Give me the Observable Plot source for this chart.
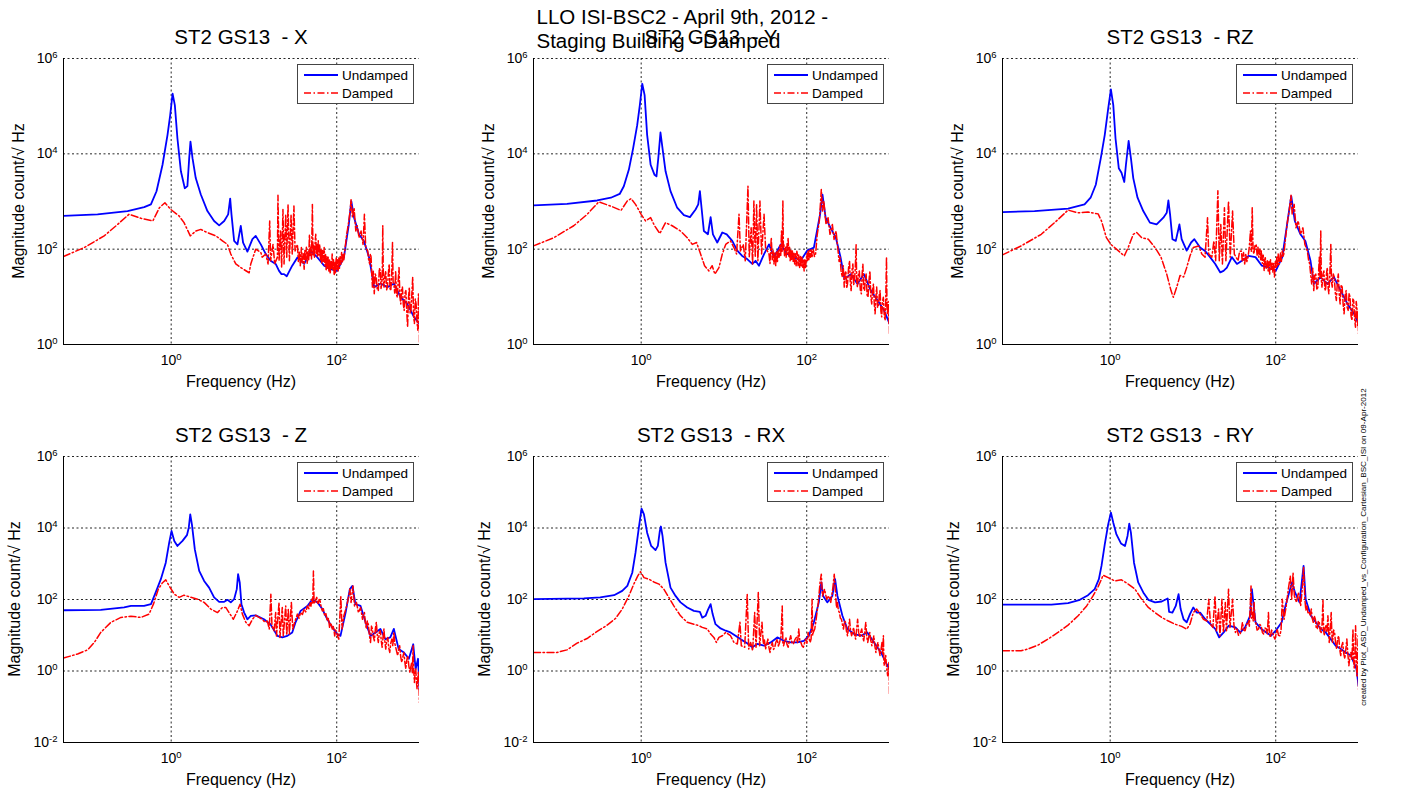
<!DOCTYPE html>
<html><head><meta charset="utf-8">
<script src="https://cdn.jsdelivr.net/npm/d3@7"></script>
<script src="https://cdn.jsdelivr.net/npm/@observablehq/plot@0.6"></script>
<style>
body{margin:0;background:#fff;}
#fig{position:relative;width:1403px;height:789px;overflow:hidden;font-family:"Liberation Sans",Arial,sans-serif;color:#000;background:#fff;}
.abs{position:absolute;white-space:pre;line-height:1;}
.legend{position:absolute;width:115px;height:38px;border:1px solid #444;background:#fff;font-size:13.5px;}
.legend span{position:absolute;left:38px;line-height:1;white-space:pre;}
</style></head><body><div id="fig"></div>
<script>
// ---------- ticks ----------
const xTicks = [1, 100];
const xTickExp = ["0", "2"];
const yTicksTop = [1, 100, 1e4, 1e6];
const yTickExpTop = ["0", "2", "4", "6"];
const yTicksBottom = [0.01, 1, 100, 1e4, 1e6];
const yTickExpBottom = ["-2", "0", "2", "4", "6"];
const xDomain = [0.05, 1000];
const yDomainTop = [1, 1e6];
const yDomainBottom = [0.01, 1e6];

const suptitle1 = "LLO ISI-BSC2 - April 9th, 2012 -";
const suptitle2 = "Staging Building - Damped";
const sideNote = "created by Plot_ASD_Undamped_vs_Configuration_Cartesian_BSC_ISI on 09-Apr-2012";
const xLabel = "Frequency (Hz)";
const yLabel = "Magnitude count/\u221A Hz";
const seriesNames = ["Undamped", "Damped"];
const panelTitles = ["ST2 GS13  - X", "ST2 GS13  - Y", "ST2 GS13  - RZ", "ST2 GS13  - Z", "ST2 GS13  - RX", "ST2 GS13  - RY"];

// ---------- data: [frequency Hz, magnitude] ----------
const xUndamped = [[0.05,500],[0.129,537],[0.297,630],[0.472,760],[0.569,870],[0.665,1640],[0.786,5900],[0.903,25000],[0.973,65000],[1.04,183000],[1.107,105000],[1.19,21000],[1.31,4300],[1.46,1900],[1.57,2100],[1.65,8100],[1.71,18000],[1.81,8100],[1.98,3100],[2.28,1400],[2.74,630],[3.30,390],[3.80,316],[4.37,390],[4.88,537],[5.16,1150],[5.35,537],[5.76,149],[6.32,126],[6.93,307],[7.39,137],[8.33,89],[9.58,162],[10.5,190],[12.1,126],[13.9,79],[15.9,57],[18.3,49],[20.1,35],[21.5,30],[23.1,30],[24.9,27],[26.4,33],[29.0,45],[33.5,67],[40.4,49],[48.6,92],[58.5,67],[70.5,45],[84.9,38],[101,35],[122,67],[140,330],[150,1020],[162,458],[186,205],[213,149],[246,67],[283,16],[339,19],[409,16],[492,19],[592,9.8],[712,7.1],[856,3.8],[1000,2.7]];
const xDamped = [[0.05,70],[0.089,108],[0.155,190],[0.225,330],[0.31,540],[0.43,445],[0.6,390],[0.72,740],[0.84,940],[0.99,680],[1.25,495],[1.43,360],[1.7,190],[1.98,240],[2.28,260],[2.74,222],[3.46,190],[4.16,150],[4.78,126],[5.25,79],[6.03,49],[6.93,41],[8.75,32],[9.15,49],[10.5,100],[12.1,85],[12.6,68],[13.9,79],[14.8,49],[15.5,390],[15.9,57],[17.0,126],[17.8,49],[19.2,68],[19.5,1350],[20.1,57],[21.0,240],[21.6,41],[22.4,680],[23.1,49],[24.2,537],[24.9,68],[25.8,870],[26.8,57],[28.1,537],[29.0,79],[30.4,800],[31.4,92],
  [33.5,126],[34.4,55],[35.4,90],[36.3,45],[37.4,108],[38.3,52],[39.4,80],[40.4,38],[41.2,95],[42.0,60],[43.0,110],[44.0,49],[45.0,88],[45.9,60],[46.8,205],[47.7,70],[48.6,110],[49.6,62],[50.8,870],[51.7,75],[52.7,120],[53.8,65],[54.8,140],[55.8,205],[56.8,80],[57.8,130],[58.5,70],[59.8,150],[61,75],[62.3,126],[63.5,60],[64.7,100],[65.9,50],[67.2,95],[68.8,55],[70.5,108],[72,45],[73.2,80],[74.5,35],[76,70],[77.5,38],[78.8,68],[80.5,33],[82,60],[83.4,30],[85,55],[86.6,40],[88.1,79],[89.8,35],[91.5,60],[93.2,28],[95,55],[96.8,32],[98.5,68],[100.5,38],[102,60],[104,35],[106,65],[108,40],[110,72],[112,48],[114.5,85],[117,52],[119.5,80],[122,60],[125,92],
  [132,205],[138,330],[145,630],[149,1100],[155,458],[162,740],[170,240],[177,310],[186,174],[197,240],[208,126],[216,537],[224,108],
  [237,92],[243,60],[250,49],[255,80],[260,68],[265,30],[270,16],[277,35],[284,11.6],[292,30],[300,26],[309,14],[318,13.5],[327,40],[337,35],[343,15],[350,18.6],[355,30],[360,310],[366,22],[373,16],[382,28],[391,35],[400,14],[410,16],[420,30],[430,49],[440,15],[450,13.5],[461,28],[472,138],[480,20],[490,18.6],[502,12],[515,35],[527,11],[540,9.8],[553,22],[566,41],[580,10],[594,7.1],[608,15],[622,16],[637,7],[653,5.2],[669,12],[685,13.5],[701,5],[718,2.3],[735,9],[753,16],[771,4.5],[790,5.2],[809,12],[828,26],[848,4],[868,2.75],[889,9],[910,7.1],[932,3],[955,2.0],[972,12],[990,9.8],[996,2.5],[1000,1.05]];

const yUndamped = [[0.05,830],[0.127,890],[0.294,1050],[0.43,1200],[0.55,1440],[0.617,2090],[0.71,4680],[0.80,13200],[0.895,40000],[0.963,105000],[1.03,295000],[1.10,170000],[1.18,25000],[1.30,5900],[1.45,3630],[1.53,3370],[1.61,8100],[1.71,28000],[1.83,11200],[1.97,4300],[2.26,1650],[2.72,740],[3.28,520],[3.88,470],[4.54,680],[4.89,870],[5.12,1650],[5.36,740],[5.72,240],[6.4,205],[6.9,470],[7.36,205],[8.3,138],[9.55,224],[10.8,205],[12.6,149],[14.5,93],[16.6,72],[19.1,62],[22.0,49],[24.1,57],[26.5,45],[30.5,79],[35,126],[40.2,68],[48.5,126],[58,79],[70,68],[84.5,57],[101,93],[122,108],[145,537],[155,1400],[169,458],[194,280],[225,174],[256,68],[286,23.5],[340,30],[410,18.6],[490,30],[595,13.5],[720,8.4],[860,5.2],[1000,2.75]];
const yDamped = [[0.05,117],[0.088,174],[0.153,310],[0.222,537],[0.307,980],[0.43,800],[0.57,650],[0.677,1020],[0.757,1150],[0.854,870],[1.0,537],[1.13,390],[1.30,458],[1.45,310],[1.68,213],[1.97,360],[2.37,310],[2.99,240],[3.60,174],[4.14,126],[4.67,138],[5.22,79],[5.83,45],[6.58,35],[7.2,45],[7.77,30],[8.7,41],[9.55,79],[10.5,126],[12.0,149],[13.2,108],[14.2,79],[15.2,537],[15.8,92],[17.1,126],[18.1,57],[19.5,2090],[20.2,68],[21.3,280],[22.2,49],[23.0,1020],[23.9,68],[24.8,870],[25.7,57],[27.2,1020],[28.5,79],[30.5,537],[31.8,108],
  [35,79],[36,50],[37.3,174],[38.3,60],[39.2,95],[40.2,49],[41.2,85],[42.2,45],[43.3,92],[44.3,55],[45.4,100],[46.4,68],[47.5,120],[48.5,70],[49.6,240],[50.5,90],[51.5,1020],[52.2,110],[53,126],[54,70],[55.2,110],[56.4,68],[57.8,130],[58.6,80],[59.5,174],[61,70],[62,110],[63,57],[64.5,95],[65.8,60],[67,92],[68.5,55],[70,85],[71.5,49],[73,80],[74.5,45],[76,90],[77,79],[78.5,45],[80,75],[82,41],[84,70],[85.8,45],[87.5,68],[89.2,40],[91,62],[93,35],[95,60],[96.8,40],[98.5,57],[100.5,80],[102,55],[104,92],[106,60],[108.5,95],[111,68],[113.5,100],[116,70],[120,100],[124,70],[128,79],
  [134,205],[142,390],[150,1780],[155,630],[161,1020],[171,330],[181,458],[191,205],[204,330],[214,160],[226,240],
  [239,92],[246,55],[253,68],[260,35],[268,26],[276,45],[284,16],[290,30],[297,35],[304,15],[311,18.6],[320,40],[329,57],[336,20],[344,13.5],[352,35],[361,49],[369,18],[378,22],[386,40],[395,126],[402,20],[410,16],[421,30],[432,35],[444,14],[457,11.6],[467,30],[477,49],[488,15],[500,13.5],[511,25],[522,30],[536,11],[550,9.8],[565,22],[580,35],[595,10],[610,7.1],[625,14],[640,18.6],[655,7],[670,4.4],[685,10],[700,16],[717,6],[735,6.2],[752,11],[770,13.5],[787,5],[805,3.8],[824,8],[843,9.8],[864,4],[885,3.2],[902,10],[920,68],[932,6],[945,4.4],[965,8],[985,2.75],[993,6],[1000,1.7]];

const rzUndamped = [[0.05,600],[0.122,630],[0.31,710],[0.49,870],[0.58,1200],[0.67,2250],[0.77,8100],[0.86,25000],[0.946,89000],[1.02,224000],[1.09,105000],[1.16,21000],[1.27,5000],[1.37,4000],[1.48,2570],[1.55,5900],[1.67,18600],[1.78,8100],[1.90,3100],[2.14,1200],[2.51,630],[3.02,360],[3.64,330],[4.39,458],[4.82,580],[5.05,1050],[5.29,537],[5.65,162],[6.2,149],[6.86,330],[7.3,162],[8.4,93],[9.5,138],[10.4,162],[12.2,108],[14.0,92],[16.1,68],[18.6,49],[21.4,32.5],[23.4,35],[25.7,41],[29.5,68],[34,49],[39,57],[47,72],[57,68],[68,45],[82,41],[100,35],[120,68],[141,458],[154,1300],[170,390],[199,205],[228,149],[263,57],[290,18.6],[348,26],[420,18.6],[505,26],[610,13.5],[735,7.1],[885,4.4],[1000,2.75]];
const rzDamped = [[0.05,76],[0.084,117],[0.147,205],[0.213,360],[0.31,660],[0.41,580],[0.54,600],[0.715,550],[0.785,390],[0.90,174],[1.02,126],[1.19,100],[1.48,72],[1.65,108],[1.90,205],[2.09,224],[2.40,174],[2.89,162],[3.48,108],[4.11,68],[4.82,30],[5.43,13.5],[5.8,9.8],[6.37,16],[6.98,28],[7.7,26],[8.4,41],[9.2,72],[10.1,108],[11.7,117],[12.8,79],[14.0,68],[15.0,458],[15.5,79],[16.9,68],[17.9,149],[18.8,57],[20.0,1680],[20.8,57],[21.7,330],[22.7,49],[24.0,740],[25.0,57],[26.9,1020],[28.2,68],[30.1,630],[31.6,79],
  [35,57],[36.6,90],[38.4,92],[39.5,55],[40.8,85],[42.2,49],[43.5,80],[44.8,55],[46.3,68],[47.9,110],[49.5,240],[50.8,90],[52,740],[53.2,100],[54.4,79],[56.2,120],[58,126],[59.6,75],[61,110],[62.5,68],[64.5,100],[65.8,60],[67,92],[68.8,50],[70.6,75],[72.5,35],[74.5,70],[76.8,40],[79,57],[81,35],[82.8,55],[84.5,30],[86.5,60],[88.5,38],[90.5,52],[92.5,33],[94.5,50],[96.5,26],[99,55],[101,40],[103,68],[105,45],[107,80],[109,48],[111,49],[114,85],[117,55],[120,92],[124,70],[129,126],
  [137,330],[147,740],[153,1350],[158,537],[167,870],[176,280],[187,390],[199,205],[213,280],[225,126],
  [241,92],[249,60],[257,49],[264,30],[272,18.6],[280,40],[288,13.5],[296,28],[305,30],[314,14],[323,16],[330,35],[336,68],[343,25],[350,240],[356,22],[362,16],[372,30],[382,35],[391,15],[400,13.5],[410,30],[420,41],[429,16],[438,11.6],[450,28],[463,126],[472,20],[482,16],[496,30],[510,26],[525,12],[540,8.4],[555,20],[570,30],[585,11],[600,7.1],[617,18],[635,16],[652,7],[670,4.4],[690,11],[710,13.5],[730,6],[750,5.2],[770,12],[790,9.8],[812,4],[835,3.2],[855,9],[875,8.4],[897,3.5],[920,2.3],[938,8],[955,6.1],[978,2.5],[990,5],[1000,1.7]];

const zUndamped = [[0.05,50],[0.141,51],[0.27,60],[0.326,66],[0.47,66],[0.57,74],[0.65,158],[0.75,370],[0.86,1070],[0.946,3900],[1.01,8300],[1.09,4350],[1.19,3150],[1.37,4350],[1.55,6300],[1.63,10200],[1.70,24000],[1.78,12600],[1.93,2520],[2.18,630],[2.50,330],[2.87,215],[3.30,115],[3.80,86],[4.37,86],[4.79,98],[5.25,83],[5.76,102],[6.2,195],[6.43,510],[6.74,295],[7.06,74],[7.61,43],[8.33,28],[9.15,35],[10.5,36],[13.2,28],[15.9,20],[19.2,9.6],[22.0,8.7],[25.3,9.6],[29.0,12],[31.8,23],[36.6,48],[44.2,66],[50.8,102],[58.5,83],[67,54],[77,28],[88.5,16.5],[101,10.8],[111,9.6],[128,43],[144,195],[155,240],[168,74],[194,66],[223,23],[256,9.6],[295,12],[337,15],[386,7.8],[444,8.7],[490,15],[560,4.1],[648,3.3],[744,2.2],[840,5.6],[898,1.14],[960,2.2],[1000,0.31]];
const zDamped = [[0.05,2.3],[0.074,3.0],[0.098,3.9],[0.118,6.3],[0.141,12],[0.187,23],[0.247,31.5],[0.326,34],[0.43,31.5],[0.54,39],[0.61,74],[0.70,195],[0.786,295],[0.86,355],[0.946,240],[1.09,141],[1.25,115],[1.43,132],[1.73,115],[2.08,102],[2.50,83],[3.01,54],[3.62,43],[4.16,60],[4.56,60],[5.0,43],[5.64,28],[6.32,48],[6.8,74],[7.25,39],[7.97,23],[8.75,18.5],[9.6,28],[10.5,36],[11.5,31.5],[12.6,28],[13.6,23],[14.5,25],[15.3,15],[16.0,141],[16.5,18.5],[17.5,13.4],[18.3,43],[18.7,9.6],[20.1,83],[20.6,8.7],[22.0,60],[22.6,9.6],[24.2,66],[24.9,10],[26.0,54],[26.8,10.8],[28.3,83],[29.4,15],
  [31.0,23],[32.2,30],[33.5,39],[35,30],[36.6,43],[38.5,38],[40.4,54],[42.2,45],[44.2,66],[46,55],[47.6,83],[48.8,65],[50,102],[51.3,80],[52.3,630],[53.3,75],[54.3,83],[55.8,100],[57.4,115],[58.5,80],[59.6,74],[61.3,100],[63,91],[65,60],[67,48],[69,55],[71.5,35],[74,40],[77,25],[79.5,30],[82,16.5],[85,22],[88.5,15],[91.5,18],[94.5,9.6],[97,14],[100,12],[103,9],[106,7.8],
  [112,126],[116,15],[122,35],[132,66],[140,126],[144,195],[149,83],[157,240],[164,66],[173,83],[183,43],[194,60],
  [205,28],[210,40],[216,43],[222,22],[228,15],[234,25],[241,20],[248,10],[256,6.3],[263,18],[270,15],[277,9],[285,7.0],[293,15],[301,23],[309,10],[318,6.3],[327,12],[337,13.4],[345,7],[354,4.6],[363,9],[372,15],[381,7],[391,4.1],[402,7],[414,8.7],[425,4.5],[437,3.3],[450,6],[463,7.8],[476,5],[490,12],[503,6],[516,4.6],[530,3.5],[545,2.7],[560,4],[576,5.1],[593,2.5],[610,1.74],[630,2.5],[648,3.3],[665,1.8],[683,1.14],[702,2],[722,2.7],[743,1.4],[764,0.92],[785,1.3],[806,1.74],[820,0.9],[837,5.1],[852,1.0],[868,0.48],[885,0.9],[902,1.14],[918,0.5],[935,0.31],[952,0.6],[970,0.92],[985,0.4],[1000,0.13]];

const rxUndamped = [[0.05,102],[0.203,107],[0.32,114],[0.47,132],[0.59,174],[0.68,240],[0.78,560],[0.854,2040],[0.937,10200],[1.01,34700],[1.08,24000],[1.18,7400],[1.32,3150],[1.49,2400],[1.59,3150],[1.68,8300],[1.73,11000],[1.81,6000],[1.97,1070],[2.26,215],[2.60,126],[2.99,83],[3.60,60],[4.33,48],[5.12,45],[5.47,31],[6.0,35],[6.4,51],[6.9,74],[7.3,39],[7.9,20.4],[9.1,15.5],[10.5,13.4],[12.0,12],[13.8,9.7],[15.8,7.8],[19.1,6.0],[22.0,4.6],[25.3,5.7],[30.5,5.1],[36.7,6.3],[44.1,8.7],[53,7.0],[64,6.3],[77,6.3],[92.5,7.0],[106,9.7],[122,23],[140,83],[150,300],[158,126],[177,83],[204,126],[220,370],[235,126],[270,35],[310,15],[375,10.8],[450,9.7],[540,12],[650,6.3],[790,3.3],[900,1.74],[1000,1.14]];
const rxDamped = [[0.05,3.3],[0.096,3.3],[0.127,3.9],[0.168,6.0],[0.222,8.1],[0.294,12.8],[0.388,19.2],[0.49,29.5],[0.59,54],[0.71,126],[0.815,270],[0.91,458],[0.98,600],[1.08,410],[1.24,370],[1.42,310],[1.64,270],[1.88,195],[2.16,114],[2.48,66],[2.99,35],[3.60,23],[4.33,20.4],[4.98,18.5],[5.47,16.6],[6.3,15],[6.9,10.8],[7.55,8.7],[8.1,6.3],[8.7,8.7],[9.55,9.7],[10.5,12],[12.0,9.7],[13.2,6.3],[14.5,5.7],[15.6,23],[16.2,5.1],[17.8,4.6],[19.1,141],[19.9,4.1],[21.0,6.3],[22.2,3.7],[23.5,43],[24.4,4.6],[26.0,158],[27.0,5.1],
  [28.8,23],[29.9,5.7],[30.8,7.5],[31.8,4.1],[33,6],[34.0,7.8],[35,4.5],[36,3.3],[37.2,5],[38.4,6.3],[39.7,4],[41,4.6],[42.5,6.5],[44,7.8],[45.5,5],[47,6.3],[48.8,9],[50.6,66],[51.5,6],[52.6,5.1],[54.3,7],[56,8.7],[57.8,5.5],[59.6,4.6],[61.8,7],[64,9.7],[66.5,6],[69,5.7],[72,7.5],[75,8.7],[77.5,6],[80,15],[82.5,7],[85,6.3],[88,5],[91,4.6],[94,6],[97,7.8],[100.5,6],[104,12],[107,8],[110,6.3],[113,8],[116,102],[118,10],[120,12],[125,15],[130,28],
  [138,83],[145,300],[150,510],[155,126],[164,195],[174,102],[184,126],[195,83],[207,215],[215,510],
  [224,126],[229,60],[235,83],[241,50],[248,43],[255,30],[263,28],[270,20],[278,15],[286,25],[294,23],[302,13],[311,9.7],[320,16],[329,28],[338,14],[348,9.7],[358,12],[368,16.6],[379,10],[390,7.8],[400,14],[412,28],[424,12],[437,8.7],[449,12],[462,15],[475,9],[488,7.0],[502,12],[517,23],[531,9],[546,6.3],[562,9],[578,12],[595,7],[612,5.1],[629,7],[647,9.7],[666,5],[685,3.3],[705,5],[725,6.3],[746,4],[768,2.7],[790,4],[812,6.3],[828,3],[844,9.7],[852,3],[860,1.4],[880,2],[900,2.7],[925,1.2],[950,0.74],[968,1.2],[985,1.74],[993,0.8],[1000,0.23]];

const ryUndamped = [[0.05,72],[0.195,72],[0.31,79],[0.43,98],[0.54,132],[0.65,195],[0.73,370],[0.785,870],[0.86,3500],[0.946,12600],[1.02,27000],[1.09,14100],[1.19,6600],[1.35,3700],[1.51,3150],[1.62,6000],[1.70,13200],[1.78,7400],[1.94,1070],[2.18,300],[2.51,158],[2.89,98],[3.48,83],[4.19,88],[4.95,107],[5.15,45],[5.65,43],[6.2,66],[6.7,141],[7.1,54],[7.7,28],[8.4,23],[9.2,39],[10.1,60],[11.1,43],[12.2,43],[14.1,28],[16.4,20],[18.6,15],[20.7,8.7],[23.5,12],[27.0,18.5],[32.6,16.6],[37.2,12],[42.6,16.6],[49,35],[51.5,195],[57,23],[67,15],[77,12],[88,9.7],[100,13.4],[118,23],[131,66],[157,300],[171,158],[194,83],[217,870],[230,102],[266,35],[305,23],[350,15],[403,12],[462,7.8],[530,5.1],[612,4.1],[700,3.3],[810,2.7],[945,1.14],[1000,0.39]];
const ryDamped = [[0.05,3.7],[0.084,3.7],[0.101,4.1],[0.134,5.3],[0.177,7.8],[0.234,12],[0.31,19.2],[0.41,35],[0.52,66],[0.62,126],[0.715,230],[0.785,370],[0.82,480],[0.946,410],[1.14,330],[1.37,355],[1.65,270],[1.99,195],[2.40,102],[2.89,60],[3.48,43],[4.19,31.5],[5.05,25],[6.08,20.4],[7.3,17.7],[8.4,14.8],[9.2,20.4],[10.1,43],[11.1,54],[12.2,39],[13.4,28],[14.7,25],[15.5,102],[16.3,20.4],[17.4,16.6],[18.5,126],[19.2,13.4],[20.4,54],[21.2,9.7],[22.4,102],[23.3,12],[24.6,83],[25.4,13.4],[26.9,195],[28.0,16.6],[30.1,102],
  [31.3,18.5],[32.6,12],[34,15],[35.5,10],[37.2,10.8],[38.4,14],[39.6,23],[41,14],[42.6,13.4],[44.6,20],[46.8,25],[48,18],[49,54],[50.3,240],[51.3,30],[52.3,43],[53.5,25],[54.8,83],[56,28],[57.2,23],[59.5,14],[62,15],[64.2,20],[66.5,18.5],[69,12],[71.6,10.8],[74.2,16],[77,15],[79.3,11],[81.6,43],[83.8,12],[86,8.7],[89,14],[92,12],[95,9],[98,7.8],[101,11],[104,15],[108,10],[112,9.7],[116,14],[120,102],
  [126,28],[134,66],[142,195],[150,458],[156,102],[162,560],[168,126],[178,83],[188,158],[200,66],[209,195],[217,780],
  [225,102],[231,50],[238,66],[246,40],[254,43],[261,35],[269,54],[276,30],[284,23],[292,35],[301,28],[309,16],[318,15],[327,25],[336,23],[345,13],[355,12],[363,20],[372,102],[379,14],[386,9.7],[395,16],[404,18.5],[415,12],[427,35],[435,14],[443,6.3],[455,15],[468,43],[477,10],[486,6.3],[500,14],[514,12],[529,6],[544,4.1],[560,8],[576,9.7],[593,4],[610,2.7],[627,5],[645,6.3],[664,3],[683,2.2],[703,4],[723,7.8],[744,3],[765,1.4],[787,2.5],[810,3.3],[833,2],[857,15],[873,2],[890,1.14],[906,3],[922,18.5],[940,2],[957,0.74],[973,2.5],[990,9.7],[995,1.5],[1000,0.31]];

// ---------- panel layout ----------
const panels = [
  {title: panelTitles[0], U: xUndamped,  D: xDamped,  left: 63,  top: 58,  row: 0},
  {title: panelTitles[1], U: yUndamped,  D: yDamped,  left: 533, top: 58,  row: 0},
  {title: panelTitles[2], U: rzUndamped, D: rzDamped, left: 1002, top: 58, row: 0},
  {title: panelTitles[3], U: zUndamped,  D: zDamped,  left: 63,  top: 456, row: 1},
  {title: panelTitles[4], U: rxUndamped, D: rxDamped, left: 533, top: 456, row: 1},
  {title: panelTitles[5], U: ryUndamped, D: ryDamped, left: 1002, top: 456, row: 1}
];
const PW = 356, PH = 286, ML = 63, MT = 58, SW = 470, SH = 400;
const BLUE = "#0000ff", RED = "#ff0000";
const DASHDOT = "7,2.5,1.5,2.5";
const ns = "http://www.w3.org/2000/svg";
const fig = document.getElementById("fig");

function addDiv(text, css) {
  const d = document.createElement("div");
  d.className = "abs";
  d.textContent = text;
  Object.assign(d.style, css);
  fig.appendChild(d);
  return d;
}

function superscripts(svg) {
  svg.querySelectorAll("text").forEach(t => {
    const s = t.textContent;
    if (!s.includes("^")) return;
    const [base, exp] = s.split("^");
    while (t.firstChild) t.removeChild(t.firstChild);
    const a = document.createElementNS(ns, "tspan");
    a.textContent = base;
    const b = document.createElementNS(ns, "tspan");
    b.setAttribute("dy", "-0.55em");
    b.setAttribute("font-size", "9.5px");
    b.textContent = exp;
    t.appendChild(a); t.appendChild(b);
  });
}

panels.forEach(p => {
  const top = p.row === 0;
  const yDomain = top ? yDomainTop : yDomainBottom;
  const yTicks = top ? yTicksTop : yTicksBottom;
  const yExp = top ? yTickExpTop : yTickExpBottom;
  const gridStyle = {stroke: "#111", strokeOpacity: 0.9, strokeWidth: 1, strokeDasharray: "2,2.5"};
  const svg = Plot.plot({
    width: SW, height: SH,
    marginLeft: ML, marginTop: MT, marginRight: SW - ML - PW, marginBottom: SH - MT - PH,
    style: {background: "transparent", fontFamily: "'Liberation Sans', Arial, sans-serif", fontSize: "14px", color: "#000", overflow: "visible"},
    x: {type: "log", domain: xDomain},
    y: {type: "log", domain: yDomain},
    marks: [
      Plot.gridX(xTicks, gridStyle),
      Plot.gridY(yTicks, gridStyle),
      Plot.line(p.U, {x: d => d[0], y: d => d[1], stroke: BLUE, strokeWidth: 1.8, clip: true}),
      Plot.line(p.D, {x: d => d[0], y: d => d[1], stroke: RED, strokeWidth: 1.5, strokeDasharray: DASHDOT, clip: true}),
      Plot.ruleY([yDomain[0]], {stroke: "#000", strokeWidth: 1}),
      Plot.ruleX([xDomain[0]], {stroke: "#000", strokeWidth: 1}),
      Plot.axisX(xTicks, {tickSize: 0, tickPadding: 11, label: null, fontSize: 14, tickFormat: d => "10^" + xTickExp[xTicks.indexOf(d)]}),
      Plot.axisY(yTicks, {tickSize: 0, tickPadding: 6, label: null, fontSize: 14, tickFormat: d => "10^" + yExp[yTicks.indexOf(d)]})
    ]
  });
  superscripts(svg);
  svg.style.position = "absolute";
  svg.style.left = (p.left - ML) + "px";
  svg.style.top = (p.top - MT) + "px";
  svg.style.maxWidth = "none";
  fig.appendChild(svg);

  addDiv(p.title, {left: (p.left + PW / 2) + "px", top: (p.top - 21.5) + "px", fontSize: "20.5px", transform: "translate(-50%,-50%)"});
  addDiv(xLabel, {left: (p.left + PW / 2) + "px", top: (p.top + PH + 37.5) + "px", fontSize: "16px", transform: "translate(-50%,-50%)"});
  addDiv(yLabel, {left: (p.left - (top ? 44.5 : 48.5)) + "px", top: (p.top + PH / 2) + "px", fontSize: "16px", transform: "translate(-50%,-50%) rotate(-90deg)"});

  const lg = document.createElement("div");
  lg.className = "legend";
  lg.style.left = (p.left + PW - 122) + "px";
  lg.style.top = (p.top + 6) + "px";
  const ls = document.createElementNS(ns, "svg");
  ls.setAttribute("width", "115"); ls.setAttribute("height", "38");
  ls.style.position = "absolute"; ls.style.left = "0"; ls.style.top = "0";
  const l1 = document.createElementNS(ns, "line");
  l1.setAttribute("x1", "6"); l1.setAttribute("x2", "40"); l1.setAttribute("y1", "10"); l1.setAttribute("y2", "10");
  l1.setAttribute("stroke", BLUE); l1.setAttribute("stroke-width", "1.8");
  const l2 = document.createElementNS(ns, "line");
  l2.setAttribute("x1", "6"); l2.setAttribute("x2", "40"); l2.setAttribute("y1", "28"); l2.setAttribute("y2", "28");
  l2.setAttribute("stroke", RED); l2.setAttribute("stroke-width", "1.5"); l2.setAttribute("stroke-dasharray", DASHDOT);
  ls.appendChild(l1); ls.appendChild(l2);
  lg.appendChild(ls);
  const s1 = document.createElement("span"); s1.textContent = seriesNames[0]; s1.style.top = "3.5px"; s1.style.left = "44px";
  const s2 = document.createElement("span"); s2.textContent = seriesNames[1]; s2.style.top = "21.5px"; s2.style.left = "44px";
  lg.appendChild(s1); lg.appendChild(s2);
  fig.appendChild(lg);
});

// suptitle (overlaps the middle title, as in the original figure)
addDiv(suptitle1, {left: "536.5px", top: "17px", fontSize: "20.5px", transform: "translateY(-50%)"});
addDiv(suptitle2, {left: "536.5px", top: "40.7px", fontSize: "20.5px", transform: "translateY(-50%)"});
addDiv(sideNote, {left: "1363.5px", top: "547px", fontSize: "8.1px", transform: "translate(-50%,-50%) rotate(-90deg)"});
</script></body></html>
